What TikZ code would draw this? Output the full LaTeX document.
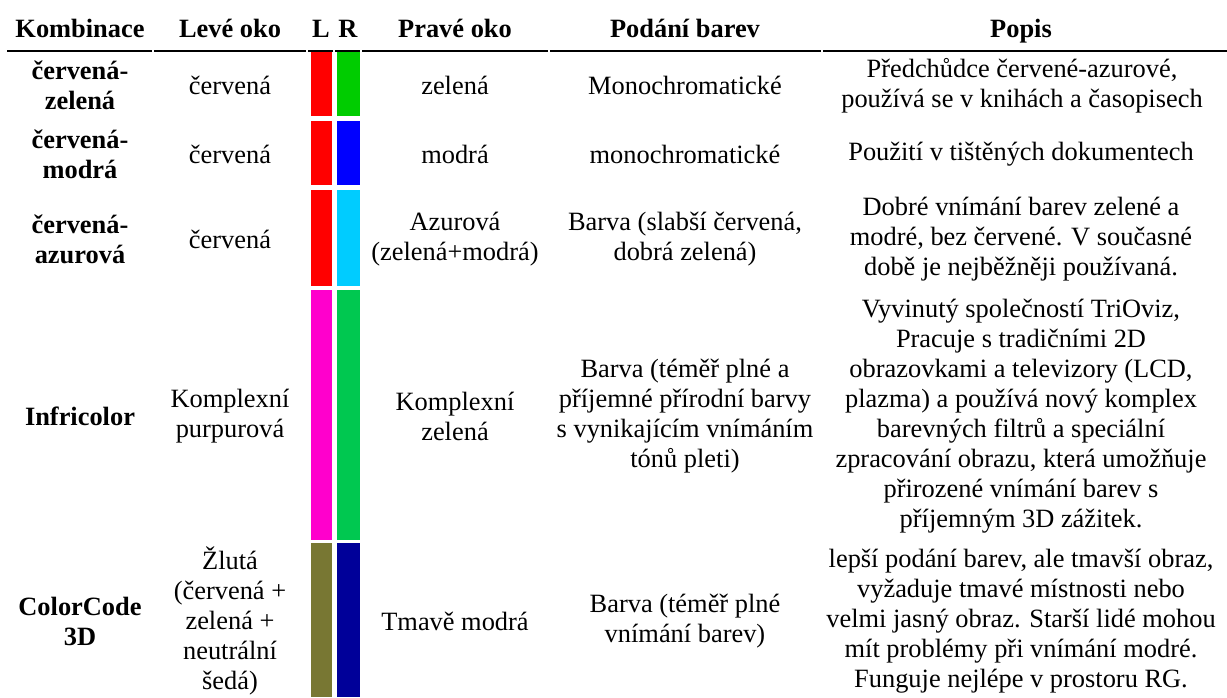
\documentclass[tikz,border=0pt]{standalone}
\usepackage{fontspec}
\setmainfont{Liberation Serif}
\definecolor{barred}{HTML}{FF0000}
\definecolor{bargreen}{HTML}{00CC00}
\definecolor{barblue}{HTML}{0000FF}
\definecolor{barcyan}{HTML}{00CCFF}
\definecolor{barmagenta}{HTML}{FF00CC}
\definecolor{barmint}{HTML}{00C850}
\definecolor{barolive}{HTML}{787733}
\definecolor{barnavy}{HTML}{000099}
\begin{document}
\begin{tikzpicture}[
  x=0.5pt,
  y=-0.5pt,
  every node/.style={font=\fontsize{13.2}{15}\selectfont, inner sep=0pt},
  cell/.style={align=center},
  head/.style={anchor=base, font=\fontsize{13.2}{15}\selectfont\bfseries},
  comb/.style={cell, font=\fontsize{13.2}{15}\selectfont\bfseries},
  leftbar/.style={minimum width=10.5pt, minimum height=#1},
  rightbar/.style={minimum width=11.5pt, minimum height=#1},
  rule/.style={line width=1.2pt}
]
\useasboundingbox (0,0) rectangle (1227,697);

\node[head] (hkomb) at (80,37) {Kombinace};
\node[head] (hleve) at (230,37) {Levé oko};
\node[head] (hl) at (321,37) {L};
\node[head] (hr) at (348,37) {R};
\node[head] (hprave) at (455,37) {Pravé oko};
\node[head] (hpodani) at (685,37) {Podání barev};
\node[head] (hpopis) at (1021,37) {Popis};

\draw[rule] (7,51) -- (152,51);
\draw[rule] (154,51) -- (306,51);
\draw[rule] (308,51) -- (333,51);
\draw[rule] (335,51) -- (360,51);
\draw[rule] (362,51) -- (548,51);
\draw[rule] (550,51) -- (821,51);
\draw[rule] (823,51) -- (1227,51);

\node[leftbar=32pt, fill=barred] (l1) at (321.5,84) {};
\node[rightbar=32pt, fill=bargreen] (r1) at (348.5,84) {};
\node[leftbar=32pt, fill=barred] (l2) at (321.5,153) {};
\node[rightbar=32pt, fill=barblue] (r2) at (348.5,153) {};
\node[leftbar=48pt, fill=barred] (l3) at (321.5,238) {};
\node[rightbar=48pt, fill=barcyan] (r3) at (348.5,238) {};
\node[leftbar=125pt, fill=barmagenta] (l4) at (321.5,415) {};
\node[rightbar=125pt, fill=barmint] (r4) at (348.5,415) {};
\node[leftbar=77pt, fill=barolive] (l5) at (321.5,620) {};
\node[rightbar=77pt, fill=barnavy] (r5) at (348.5,620) {};

\node[comb] (komb1) at (80,85) {červená-\\zelená};
\node[cell] (leve1) at (230,85) {červená};
\node[cell] (prave1) at (455,85) {zelená};
\node[cell] (podani1) at (685,85) {Monochromatické};
\node[cell] (popis1) at (1022,86) {Předchůdce červené-azurové,\\používá se v knihách a časopisech};

\node[comb] (komb2) at (80,154) {červená-\\modrá};
\node[cell] (leve2) at (230,154) {červená};
\node[cell] (prave2) at (455,154) {modrá};
\node[cell] (podani2) at (685,154) {monochromatické};
\node[cell] (popis2) at (1021,154) {Použití v tištěných dokumentech};

\node[comb] (komb3) at (80,239) {červená-\\azurová};
\node[cell] (leve3) at (230,239) {červená};
\node[cell] (prave3) at (455,239) {Azurová\\(zelená+modrá)};
\node[cell] (podani3) at (685,239) {Barva (slabší červená,\\dobrá zelená)};
\node[cell] (popis3) at (1021,239) {Dobré vnímání barev zelené a\\modré, bez červené. V současné\\době je nejběžněji používaná.};

\node[comb] (komb4) at (80,416) {Infricolor};
\node[cell] (leve4) at (230,416) {Komplexní\\purpurová};
\node[cell] (prave4) at (455,416) {Komplexní\\zelená};
\node[cell] (podani4) at (685,416) {Barva (téměř plné a\\příjemné přírodní barvy\\s vynikajícím vnímáním\\tónů pleti)};
\node[cell] (popis4) at (1021,416) {Vyvinutý společností TriOviz,\\Pracuje s tradičními 2D\\obrazovkami a televizory (LCD,\\plazma) a používá nový komplex\\barevných filtrů a speciální\\zpracování obrazu, která umožňuje\\přirozené vnímání barev s\\příjemným 3D zážitek.};

\node[comb] (komb5) at (80,621) {ColorCode\\3D};
\node[cell] (leve5) at (230,621) {Žlutá\\(červená +\\zelená +\\neutrální\\šedá)};
\node[cell] (prave5) at (455,621) {Tmavě modrá};
\node[cell] (podani5) at (685,621) {Barva (téměř plné\\vnímání barev)};
\node[cell] (popis5) at (1021,621) {lepší podání barev, ale tmavší obraz,\\vyžaduje tmavé místnosti nebo\\velmi jasný obraz. Starší lidé mohou\\mít problémy při vnímání modré.\\Funguje nejlépe v prostoru RG.};
\end{tikzpicture}
\end{document}
